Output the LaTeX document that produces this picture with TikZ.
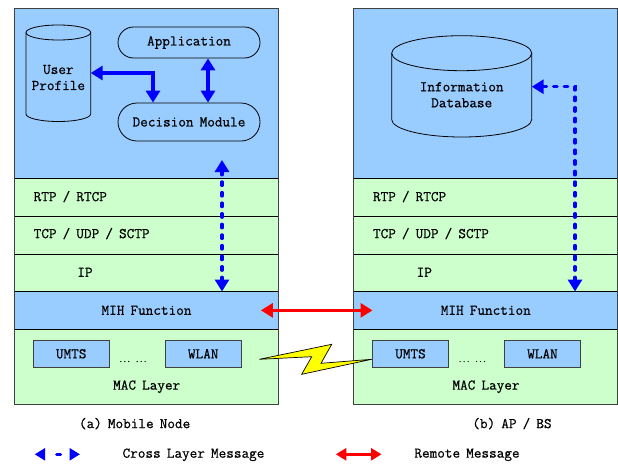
\documentclass[tikz,border=0pt]{standalone}
\usepackage{fontspec}
\newfontfamily\diagfont{Latin Modern Mono}[FakeBold=0.6, WordSpace=0.8]
\usetikzlibrary{arrows.meta}
\definecolor{paneblue}{HTML}{99CCFF}
\definecolor{panegreen}{HTML}{CCFFCC}
\definecolor{frame}{HTML}{404040}
\definecolor{msgblue}{HTML}{0000FF}
\definecolor{msgred}{HTML}{FF0000}
\definecolor{bolt}{HTML}{FFFF00}

\tikzset{
  txt/.style={inner sep=0pt},
  radio/.style={draw=frame, fill=paneblue, line width=0.8pt,
    minimum width=75.7pt, minimum height=26.3pt, inner sep=0pt},
  pill/.style={draw=black, line width=0.8pt, minimum width=142pt, inner sep=0pt},
  crossmsg/.style={draw=msgblue, line width=3.2pt,
    {Triangle[width=14pt,length=12pt]}-{Triangle[width=14pt,length=12pt]}},
  crossdash/.style={crossmsg, line cap=round, dash pattern=on 3.6pt off 7pt},
  remotemsg/.style={draw=msgred, line width=3.2pt,
    {Triangle[width=14pt,length=12pt]}-{Triangle[width=14pt,length=12pt]}},
  keycross/.style={draw=msgblue, line width=3.2pt, line cap=round,
    {Triangle[width=12pt,length=10.5pt]}-{Triangle[width=12pt,length=10.5pt]},
    dash pattern=on 3.8pt off 30pt, dash phase=21.6pt},
  keyremote/.style={draw=msgred, line width=3.2pt,
    {Triangle[width=12pt,length=10.5pt]}-{Triangle[width=12pt,length=10.5pt]}},
}

\begin{document}
\begin{tikzpicture}[x=1pt, y=-1pt, font=\diagfont\fontsize{14.8}{16}\selectfont]
\useasboundingbox (0,0) rectangle (618,466);

% ---- protocol stacks: (a) mobile node, (b) AP / BS ----
\foreach \p/\dx in {a/0, b/339.3} {
  \begin{scope}[xshift=\dx pt]
    \fill[paneblue]  (14.5,8.3)   rectangle (278.5,178);
    \fill[panegreen] (14.5,178)   rectangle (278.5,291.7);
    \fill[panegreen] (14.5,329)   rectangle (278.5,404.3);
    \node[fill=paneblue, minimum width=264pt, minimum height=37.3pt, inner sep=0pt]
      (\p-mih) at (146.5,310.35) {MIH Function};
    \foreach \yy in {178,216.3,254,291.7,329}
      \draw[line width=0.8pt] (14.5,\yy) -- (278.5,\yy);
    \draw[frame, line width=1.2pt] (14.5,8.3) rectangle (278.5,404.3);
    \node[txt, anchor=west] (\p-rtp) at (33.5,196.6) {RTP / RTCP};
    \node[txt, anchor=west] (\p-tcp) at (33.5,233.6) {TCP / UDP / SCTP};
    \node[txt] (\p-ip) at (85,272.3) {IP};
    \node[radio] (\p-umts) at (71.2,353.8) {UMTS};
    \node[radio] (\p-wlan) at (203.2,353.8) {WLAN};
    \node[txt, font=\diagfont\fontsize{7.5}{8}\selectfont] (\p-dots) at (133,361.5) {... ...};
    \node[txt] (\p-mac) at (146.7,386.7) {MAC Layer};
  \end{scope}
}

% ---- mobile node upper layers ----
\fill[paneblue]
  (26,32.5) -- (26,114) .. controls (26,118.14) and (40.48,121.5) .. (58.35,121.5)
  .. controls (76.22,121.5) and (90.7,118.14) .. (90.7,114) -- (90.7,32.5) -- cycle;
\draw[line width=0.8pt]
  (26,32.5) -- (26,114) .. controls (26,118.14) and (40.48,121.5) .. (58.35,121.5)
  .. controls (76.22,121.5) and (90.7,118.14) .. (90.7,114) -- (90.7,32.5);
\draw[line width=0.8pt, fill=paneblue] (58.35,32.5) ellipse [x radius=32.35, y radius=7.5];
\node[txt, align=center] (user) at (58.35,77.5) {User\\Profile};
\coordinate (userside) at (90.7,73);

\node[pill, rounded corners=15.5pt, minimum height=31pt] (app) at (189,42.5) {Application};
\node[pill, rounded corners=19pt, minimum height=38pt] (dm) at (189,122) {Decision Module};

\draw[crossmsg] (userside) -| ([xshift=-36pt]dm.north);
\draw[crossmsg] ([xshift=19pt]app.south) -- ([xshift=19pt]dm.north);

\coordinate (mntop) at (222,160);
\draw[crossdash] (mntop) -- (mntop |- a-mih.north);

% ---- AP / BS information database ----
\fill[paneblue]
  (391.7,53.2) -- (391.7,119.5) .. controls (391.7,129.17) and (423.04,137) .. (461.7,137)
  .. controls (500.36,137) and (531.7,129.17) .. (531.7,119.5) -- (531.7,53.2) -- cycle;
\draw[line width=0.8pt]
  (391.7,53.2) -- (391.7,119.5) .. controls (391.7,129.17) and (423.04,137) .. (461.7,137)
  .. controls (500.36,137) and (531.7,129.17) .. (531.7,119.5) -- (531.7,53.2);
\draw[line width=0.8pt, fill=paneblue] (461.7,53.2) ellipse [x radius=70, y radius=17.5];
\node[txt, align=center] (infodb) at (461.7,94.8) {Information\\Database};
\coordinate (dbside) at (531.7,86.7);
\coordinate (dbturn) at (575,86.7);
\draw[crossdash] (dbside) -- (dbturn) -- (dbturn |- b-mih.north);

% ---- remote message and radio link ----
\draw[remotemsg, shorten <=-17.8pt, shorten >=-18.9pt] (a-mih.east) -- (b-mih.west);

\draw[fill=bolt, line width=0.7pt, line join=miter]
  (259.3,359.3) -- (331.7,344.3) -- (321,363.3) -- (371.7,359.3)
  -- (301.7,374.3) -- (311.7,356.7) -- cycle;

% ---- captions ----
\node[txt] (capa) at (134.6,423.6) {(a) Mobile Node};
\node[txt] (capb) at (512,423.6) {(b) AP / BS};

% ---- legend ----
\coordinate (kb1) at (34.7,454.3);
\coordinate (kb2) at (80,454.3);
\draw[keycross] (kb1) -- (kb2);
\node[txt] (keyb) at (193.5,454.8) {Cross Layer Message};
\coordinate (kr1) at (335.8,454.3);
\coordinate (kr2) at (381.5,454.3);
\draw[keyremote] (kr1) -- (kr2);
\node[txt] (keyr) at (467,454.8) {Remote Message};
\end{tikzpicture}
\end{document}
